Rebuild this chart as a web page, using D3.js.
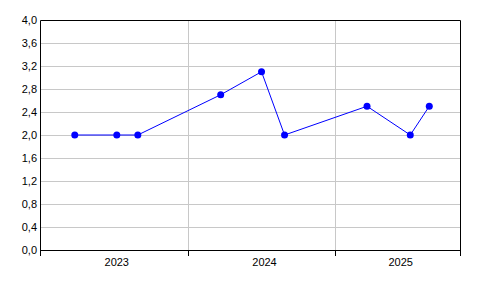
<!DOCTYPE html>
<html>
<head>
<meta charset="utf-8">
<script src="https://cdn.jsdelivr.net/npm/d3@7"></script>
<style>
    body { margin: 0; background: #fff; }
    text { font-family: "Liberation Sans", Arial, sans-serif; font-size: 11px; fill: #000; }
</style>
</head>
<body>
<div id="chart"></div>
<script>
// Data
const dates = ["2023-03-28", "2023-07-10", "2023-08-31", "2024-03-23", "2024-07-02",
               "2024-08-28", "2025-03-20", "2025-07-05", "2025-08-21"];
const values = [2.0, 2.0, 2.0, 2.7, 3.1, 2.0, 2.5, 2.0, 2.5];
const yearLabels = ["2023", "2024", "2025"];
const yTicks = [0, 0.4, 0.8, 1.2, 1.6, 2.0, 2.4, 2.8, 3.2, 3.6, 4.0];

const parse = d3.timeParse("%Y-%m-%d");
const data = dates.map((d, i) => ({ date: parse(d), value: values[i] }));

// Dimensions
const width = 496, height = 296;
const plotLeft = 40, plotRight = 460, plotTop = 20, plotBottom = 250;

const svg = d3.select("#chart").append("svg")
    .attr("width", width)
    .attr("height", height);

// Scales
const xScale = d3.scaleTime()
    .domain([parse("2023-01-01"), parse("2025-11-05")])
    .range([plotLeft, plotRight]);
const yScale = d3.scaleLinear()
    .domain([0, 4])
    .range([plotBottom, plotTop]);

const fmt = d => d.toFixed(1).replace(".", ",");

// Horizontal grid
svg.append("g")
    .selectAll("line")
    .data(yTicks.slice(1, -1))
    .enter()
    .append("line")
        .attr("x1", plotLeft)
        .attr("x2", plotRight)
        .attr("y1", d => Math.round(yScale(d)) + 0.5)
        .attr("y2", d => Math.round(yScale(d)) + 0.5)
        .attr("stroke", "#c8c8c8");

// Year boundaries (vertical grid + ticks)
const yearStarts = yearLabels.slice(1).map(y => parse(y + "-01-01"));
svg.append("g")
    .selectAll("line")
    .data(yearStarts)
    .enter()
    .append("line")
        .attr("x1", d => Math.round(xScale(d)) + 0.5)
        .attr("x2", d => Math.round(xScale(d)) + 0.5)
        .attr("y1", plotTop)
        .attr("y2", plotBottom)
        .attr("stroke", "#c8c8c8");

// Frame
const frame = svg.append("g").attr("stroke", "#000").attr("fill", "none");
frame.append("path")
    .attr("d", `M${plotLeft + 0.5},${plotBottom + 6}V${plotTop + 0.5}H${plotRight + 0.5}V${plotBottom + 6}`);
frame.append("line")
    .attr("x1", plotLeft).attr("x2", plotRight + 1)
    .attr("y1", plotBottom + 0.5).attr("y2", plotBottom + 0.5);
frame.selectAll("line.tick")
    .data(yearStarts)
    .enter()
    .append("line")
        .attr("class", "tick")
        .attr("x1", d => Math.round(xScale(d)) + 0.5)
        .attr("x2", d => Math.round(xScale(d)) + 0.5)
        .attr("y1", plotBottom)
        .attr("y2", plotBottom + 6);

// Y labels
svg.append("g")
    .selectAll("text")
    .data(yTicks)
    .enter()
    .append("text")
        .attr("x", plotLeft - 3)
        .attr("y", d => yScale(d) + 4)
        .attr("text-anchor", "end")
        .text(fmt);

// X labels, centred in each visible year band
const bounds = [plotLeft, ...yearStarts.map(xScale), plotRight];
svg.append("g")
    .selectAll("text")
    .data(yearLabels)
    .enter()
    .append("text")
        .attr("x", (d, i) => (bounds[i] + bounds[i + 1]) / 2 + 3)
        .attr("y", plotBottom + 16)
        .attr("text-anchor", "middle")
        .text(d => d);

// Series
const line = d3.line()
    .x(d => xScale(d.date))
    .y(d => yScale(d.value));
svg.append("path")
    .datum(data)
    .attr("d", line)
    .attr("fill", "none")
    .attr("stroke", "#0000ff")
    .attr("stroke-width", 1);

svg.append("g")
    .selectAll("circle")
    .data(data)
    .enter()
    .append("circle")
        .attr("cx", d => xScale(d.date))
        .attr("cy", d => yScale(d.value))
        .attr("r", 3.5)
        .attr("fill", "#0000ff");
</script>
</body>
</html>
